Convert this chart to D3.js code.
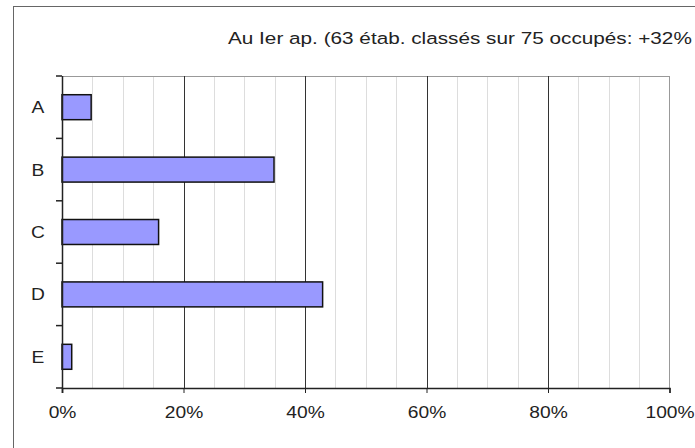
<!DOCTYPE html>
<html>
<head>
<meta charset="utf-8">
<script src="https://cdn.jsdelivr.net/npm/d3@7"></script>
<style>
  body { margin: 0; background: #fff; }
  svg text { font-family: "Liberation Sans", Arial, sans-serif; fill: #222; }
</style>
</head>
<body>
<svg id="chart"></svg>
<script>
// data (share of the 63 classed establishments)
const categories = ["A", "B", "C", "D", "E"];
const shares = [4.8, 34.9, 15.9, 42.9, 1.6];
const xTicks = [0, 20, 40, 60, 80, 100];
const minorTicks = d3.range(0, 101, 5);
const title = "Au Ier ap. (63 étab. classés sur 75 occupés: +32%";

const W = 695, H = 448;
const m = {left: 62, top: 76, right: 25, bottom: 60};
const stretch = 1.2; // text in the picture is a bit wide

const svg = d3.select('#chart').attr('width', W).attr('height', H);

// outer frame
svg.append('rect')
  .attr('x', 13.5).attr('y', 6.5)
  .attr('width', W + 10).attr('height', H + 10)
  .attr('fill', 'none').attr('stroke', '#666').attr('stroke-width', 1);

const x = d3.scaleLinear().domain([0, 100]).range([m.left, 669.5]);
const y = d3.scaleBand().domain(categories).range([m.top, 388]).paddingInner(0.6).paddingOuter(0.3);
const yb = d3.scaleBand().domain(categories).range([m.top, 388]);

// minor grid
svg.append('g').selectAll('line')
  .data(minorTicks.filter(d => d % 20 !== 0)).join('line')
  .attr('x1', d => Math.round(x(d)) + 0.5).attr('x2', d => Math.round(x(d)) + 0.5)
  .attr('y1', m.top).attr('y2', 388)
  .attr('stroke', '#ddd').attr('stroke-width', 1);

// plot frame top/right
svg.append('line').attr('x1', m.left).attr('x2', x(100)).attr('y1', m.top + 0.5).attr('y2', m.top + 0.5)
  .attr('stroke', '#999');
svg.append('line').attr('x1', x(100)).attr('x2', x(100)).attr('y1', m.top).attr('y2', 388)
  .attr('stroke', '#999');

// major grid
svg.append('g').selectAll('line')
  .data(xTicks.filter(d => d > 0 && d < 100)).join('line')
  .attr('x1', d => Math.round(x(d)) + 0.5).attr('x2', d => Math.round(x(d)) + 0.5)
  .attr('y1', m.top).attr('y2', 388)
  .attr('stroke', '#333').attr('stroke-width', 1);

// bars
svg.append('g').selectAll('rect')
  .data(categories).join('rect')
  .attr('x', x(0))
  .attr('y', d => y(d))
  .attr('width', (d, i) => x(shares[i]) - x(0))
  .attr('height', y.bandwidth())
  .attr('fill', '#9999ff')
  .attr('stroke', '#111').attr('stroke-width', 1.5);

// x axis
const xAxis = svg.append('g').attr('transform', 'translate(0,388)')
  .call(d3.axisBottom(x).tickValues(xTicks).tickSize(5).tickFormat(d => d + '%'));
xAxis.select('.domain').attr('stroke', '#222').attr('stroke-width', 1.5);
xAxis.selectAll('.tick line').attr('stroke', '#222');
xAxis.selectAll('text').attr('font-size', 16).attr('dy', null).attr('y', 0)
  .attr('transform', 'translate(0,30) scale(' + stretch + ',1)');

// y axis with ticks at category boundaries
svg.append('line').attr('x1', m.left + 0.5).attr('x2', m.left + 0.5).attr('y1', m.top).attr('y2', 393)
  .attr('stroke', '#222').attr('stroke-width', 1.5);
svg.append('g').selectAll('line')
  .data(categories.concat(['end'])).join('line')
  .attr('x1', m.left - 6).attr('x2', m.left)
  .attr('y1', (d, i) => m.top + i * yb.step())
  .attr('y2', (d, i) => m.top + i * yb.step())
  .attr('stroke', '#222').attr('stroke-width', 1.5);
svg.append('g').selectAll('text')
  .data(categories).join('text')
  .attr('text-anchor', 'middle')
  .attr('font-size', 16)
  .attr('transform', d => `translate(38,${yb(d) + yb.bandwidth() / 2 + 6}) scale(${stretch},1)`)
  .text(d => d);

// title
svg.append('text')
  .attr('font-size', 17)
  .attr('transform', `translate(228,44) scale(1.22,1)`)
  .text(title);
</script>
</body>
</html>
